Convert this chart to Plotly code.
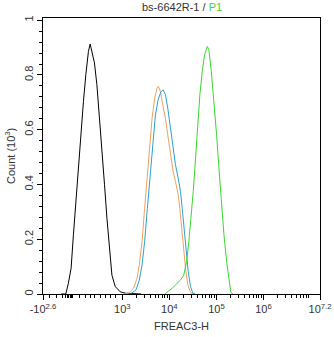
import plotly.graph_objects as go
import math

# x values are in display decades (biexponential-like axis); y in 10^3 counts
black_x = [1.70, 1.80, 1.855, 1.913, 1.962, 2.013, 2.068, 2.126, 2.175, 2.226, 2.281, 2.318, 2.354, 2.409,
           2.461, 2.510, 2.567, 2.623, 2.674, 2.729, 2.780, 2.851, 2.957, 3.064, 3.20, 3.40]
black_y = [0.0, 0.0, 0.039, 0.094, 0.216, 0.337, 0.460, 0.581, 0.703, 0.801, 0.886, 0.913, 0.886, 0.844,
           0.764, 0.642, 0.520, 0.399, 0.277, 0.155, 0.069, 0.027, 0.008, 0.003, 0.001, 0.0]

orange_x = [3.05, 3.134, 3.241, 3.313, 3.362, 3.420, 3.475, 3.533, 3.582, 3.633, 3.689, 3.740, 3.768, 3.810,
            3.859, 3.917, 3.966, 4.023, 4.081, 4.130, 4.188, 4.222, 4.258, 4.301, 4.343, 4.392, 4.450, 4.499]
orange_y = [0.0, 0.003, 0.021, 0.057, 0.106, 0.191, 0.313, 0.435, 0.533, 0.642, 0.716, 0.752, 0.758, 0.740,
            0.691, 0.642, 0.581, 0.508, 0.447, 0.411, 0.362, 0.313, 0.240, 0.167, 0.094, 0.033, 0.006, 0.0]

blue_x = [3.10, 3.171, 3.292, 3.362, 3.420, 3.475, 3.533, 3.591, 3.646, 3.704, 3.761, 3.817, 3.868, 3.917,
          3.966, 4.023, 4.081, 4.130, 4.188, 4.237, 4.273, 4.316, 4.358, 4.401, 4.450, 4.499, 4.557]
blue_y = [0.0, 0.0, 0.015, 0.051, 0.106, 0.191, 0.313, 0.435, 0.557, 0.654, 0.709, 0.737, 0.746, 0.728,
          0.679, 0.606, 0.533, 0.472, 0.423, 0.374, 0.313, 0.240, 0.155, 0.082, 0.027, 0.003, 0.0]

green_x = [3.902, 4.060, 4.200, 4.237, 4.307, 4.365, 4.414, 4.465, 4.507, 4.557, 4.606, 4.648, 4.699, 4.748,
           4.806, 4.840, 4.891, 4.947, 5.004, 5.053, 5.104, 5.160, 5.217, 5.267, 5.303, 5.345]
green_y = [0.0, 0.021, 0.045, 0.051, 0.069, 0.118, 0.191, 0.277, 0.374, 0.496, 0.618, 0.728, 0.813, 0.874,
           0.904, 0.892, 0.813, 0.703, 0.581, 0.460, 0.337, 0.216, 0.118, 0.045, 0.008, 0.0]

x_tickvals = [1.316, 3, 4, 5, 6, 7.2]
x_ticktext = ["-10<sup>2.6</sup>", "10<sup>3</sup>", "10<sup>4</sup>", "10<sup>5</sup>",
              "10<sup>6</sup>", "10<sup>7.2</sup>"]
y_tickvals = [0, 0.2, 0.4, 0.6, 0.8, 1]
y_ticktext = ["0", "0.2", "0.4", "0.6", "0.8", "1"]

# minor tick marks of the axis
x_minor_left = [1.45, 1.60, 1.72, 1.80, 1.83, 1.86, 1.89, 1.92, 1.95, 2.10, 2.21, 2.32, 2.42, 2.53, 2.64, 2.74, 2.85]
x_minor = x_minor_left + [d + math.log10(k) for d in range(3, 7) for k in range(2, 10) if d + math.log10(k) < 7.2]
y_minor = [i * 0.04 for i in range(26)]

COL_BLACK = "#000000"
COL_ORANGE = "#f0a060"
COL_BLUE = "#2aa0d4"
COL_GREEN = "#3ad630"

fig = go.Figure()
for xs, ys, c in [(black_x, black_y, COL_BLACK), (orange_x, orange_y, COL_ORANGE),
                  (blue_x, blue_y, COL_BLUE), (green_x, green_y, COL_GREEN)]:
    fig.add_trace(go.Scatter(x=xs, y=ys, mode="lines", line=dict(color=c, width=1),
                             hoverinfo="skip", showlegend=False))

FONT = "Liberation Sans, Arial, sans-serif"
TXT = "#333333"
fig.update_layout(
    width=334, height=337,
    margin=dict(l=43, r=14, t=18, b=43),
    paper_bgcolor="white", plot_bgcolor="white",
    font=dict(family=FONT, size=11, color=TXT),
    showlegend=False,
    xaxis=dict(range=[1.316, 7.2], showgrid=False, zeroline=False, automargin=False,
               showline=True, linecolor="black", linewidth=1, mirror=True,
               tickmode="array", tickvals=x_tickvals, ticktext=x_ticktext,
               ticks="outside", ticklen=5, tickcolor="black", tickwidth=1,
               tickfont=dict(size=11, color=TXT),
               minor=dict(tickmode="array", tickvals=x_minor, ticks="outside", ticklen=3,
                          tickcolor="black", tickwidth=1)),
    yaxis=dict(range=[0, 1.008], showgrid=False, zeroline=False, automargin=False,
               showline=True, linecolor="black", linewidth=1, mirror=True,
               tickmode="array", tickvals=y_tickvals, ticktext=y_ticktext, tickangle=-90,
               ticks="outside", ticklen=5, tickcolor="black", tickwidth=1,
               tickfont=dict(size=11, color=TXT),
               minor=dict(tickmode="array", tickvals=y_minor, ticks="outside", ticklen=3,
                          tickcolor="black", tickwidth=1)),
    annotations=[
        dict(text="bs-6642R-1 / <span style='color:#3ad630'>P1</span>", xref="paper", yref="paper",
             x=0.5, y=1, xanchor="center", yanchor="bottom", yshift=3, showarrow=False,
             font=dict(size=11, color=TXT)),
        dict(text="FREAC3-H", xref="paper", yref="paper", x=0.5, y=0, xanchor="center", yanchor="top",
             yshift=-24, showarrow=False, font=dict(size=11, color=TXT)),
        dict(text="Count (10<sup>3</sup>)", xref="paper", yref="paper", x=0, y=0.5, xanchor="right",
             yanchor="middle", xshift=-24, textangle=-90, showarrow=False, font=dict(size=11, color=TXT)),
    ],
)

fig.write_html("out.html")
